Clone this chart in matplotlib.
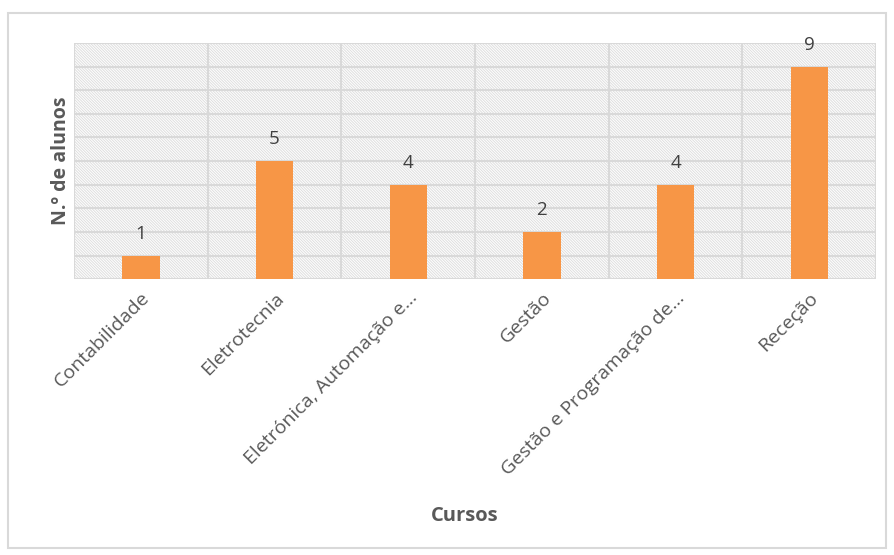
import numpy as np
import matplotlib.pyplot as plt
from matplotlib.patches import Rectangle

plt.rcParams['font.family'] = ['Open Sans', 'DejaVu Sans']
plt.rcParams['hatch.linewidth'] = 0.7
plt.rcParams['hatch.color'] = '#dedede'

cursos = ['Contabilidade', 'Eletrotecnia', 'Eletrónica, Automação e...', 'Gestão',
          'Gestão e Programação de...', 'Receção']
alunos = [1, 5, 4, 2, 4, 9]

grid_col = '#d9d9d9'
text_col = '#595959'
bar_col = '#f79646'

fig = plt.figure(figsize=(8.94, 5.55), dpi=100)
ax = fig.add_axes([0.0828, 0.497, 0.8972, 0.4255])

# hatched plot area background
ax.patch.set_facecolor('white')
ax.add_patch(Rectangle((0, 0), 1, 1, transform=ax.transAxes, facecolor='white',
                       edgecolor='#dedede', hatch='\\' * 12, linewidth=0, zorder=0))

x = np.arange(len(cursos))
bars = ax.bar(x, alunos, width=0.28, color=bar_col, zorder=3)
for xi, v in zip(x, alunos):
    ax.text(xi, v + 0.55, str(v), ha='center', va='bottom', fontsize=13.5, color='#404040')

ax.set_xlim(-0.5, len(cursos) - 0.5)
ax.set_ylim(0, 10)

for y in range(0, 11):
    ax.axhline(y, color=grid_col, lw=1.5, zorder=1)
for b in np.arange(-0.5, len(cursos), 1):
    ax.axvline(b, color=grid_col, lw=1.5, zorder=1)

for s in ax.spines.values():
    s.set_visible(False)

ax.set_yticks([])
ax.set_xticks(x)
ax.set_xticklabels(cursos, rotation=45, ha='right', rotation_mode='anchor',
                   fontsize=14, color=text_col)
ax.tick_params(axis='x', length=0, pad=7)

ax.set_ylabel('N.º de alunos', fontsize=14, fontweight='bold', color=text_col, labelpad=2)
fig.text(0.5196, 0.07, 'Cursos', ha='center', va='center', fontsize=14.5,
         fontweight='bold', color=text_col)

fig.patches.append(Rectangle((8 / 894, 7 / 555), 878 / 894, 535 / 555,
                             transform=fig.transFigure, fill=False,
                             edgecolor=grid_col, lw=1.5))

fig.savefig('out.png', dpi=100)
